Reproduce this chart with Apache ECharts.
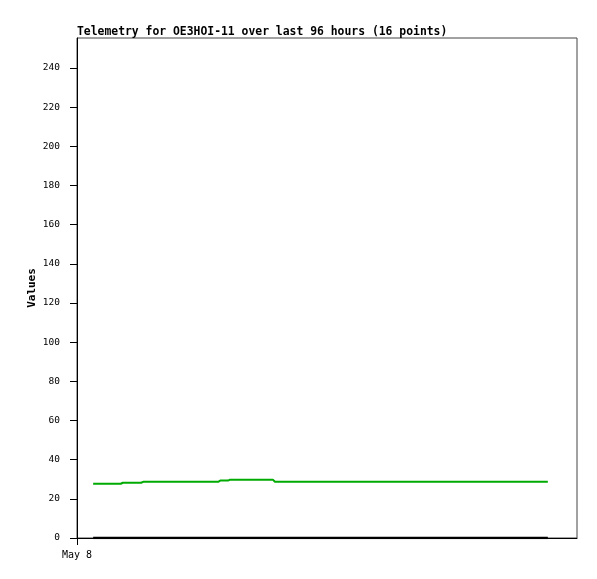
<!DOCTYPE html>
<html>
<head>
<meta charset="utf-8">
<script src="https://cdn.jsdelivr.net/npm/echarts@6/dist/echarts.min.js"></script>
<style>
    html,body{margin:0;padding:0;background:#fff;}
    #chart{width:597px;height:579px;}
</style>
</head>
<body>
<div id="chart"></div>
<script>
    // hours since start of May 8
    var hours = [3.1, 8.4, 8.8, 12.3, 12.7, 27.1, 27.5, 29.0, 29.4, 37.6, 38.0, 50, 60, 70, 80, 90.4];
    var greenValues = [27.7, 27.7, 28.2, 28.2, 28.7, 28.7, 29.3, 29.3, 29.8, 29.8, 28.7, 28.7, 28.7, 28.7, 28.7, 28.7];
    var blackValues = [0, 0, 0, 0, 0, 0, 0, 0, 0, 0, 0, 0, 0, 0, 0, 0];
    var xTickHours = [0];
    var xTickLabels = ['May 8'];

    function pairs(xs, ys){
        var out = [];
        for(var i=0;i<xs.length;i++){
            out.push([xs[i], ys[i]]);
        }
        return out;
    }

    var myChart = echarts.init(document.getElementById('chart'));
    var option = {
        animation:false,
        title:{
            text:'Telemetry for OE3HOI-11 over last 96 hours (16 points)',
            left:72,
            top:22,
            textStyle:{
                fontFamily:'DejaVu Sans Mono',
                fontSize:11.4,
                fontWeight:'bold',
                color:'#000'
            }
        },
        grid:{
            left:77,
            right:20,
            top:38,
            bottom:41,
            show:true,
            borderColor:'#444',
            borderWidth:1
        },
        xAxis:{
            type:'value',
            min:0,
            max:96,
            splitLine:{show:false},
            axisLine:{lineStyle:{color:'#000',width:1}},
            axisTick:{
                show:true,
                length:7,
                customValues:xTickHours,
                lineStyle:{color:'#000'}
            },
            axisLabel:{
                customValues:xTickHours,
                margin:12,
                fontFamily:'DejaVu Sans Mono',
                fontSize:10,
                color:'#000',
                formatter:function(v){
                    var idx = xTickHours.indexOf(v);
                    return idx >= 0 ? xTickLabels[idx] : '';
                }
            }
        },
        yAxis:{
            type:'value',
            min:0,
            max:255.3,
            interval:20,
            name:'Values',
            nameLocation:'middle',
            nameGap:39,
            nameMoveOverlap:false,
            nameTextStyle:{
                fontFamily:'DejaVu Sans Mono',
                fontSize:11,
                fontWeight:'bold',
                color:'#000'
            },
            splitLine:{show:false},
            axisLine:{show:true,lineStyle:{color:'#000',width:1}},
            axisTick:{show:true,length:7,lineStyle:{color:'#000'}},
            axisLabel:{
                margin:17,
                fontFamily:'DejaVu Sans Mono',
                fontSize:9.5,
                color:'#000',
                showMaxLabel:false
            }
        },
        series:[
            {
                name:'black',
                type:'line',
                symbol:'none',
                data:pairs(hours, blackValues),
                lineStyle:{color:'#000',width:2.5}
            },
            {
                name:'green',
                type:'line',
                symbol:'none',
                data:pairs(hours, greenValues),
                lineStyle:{color:'#00aa00',width:2}
            }
        ]
    };
    myChart.setOption(option);
</script>
</body>
</html>
